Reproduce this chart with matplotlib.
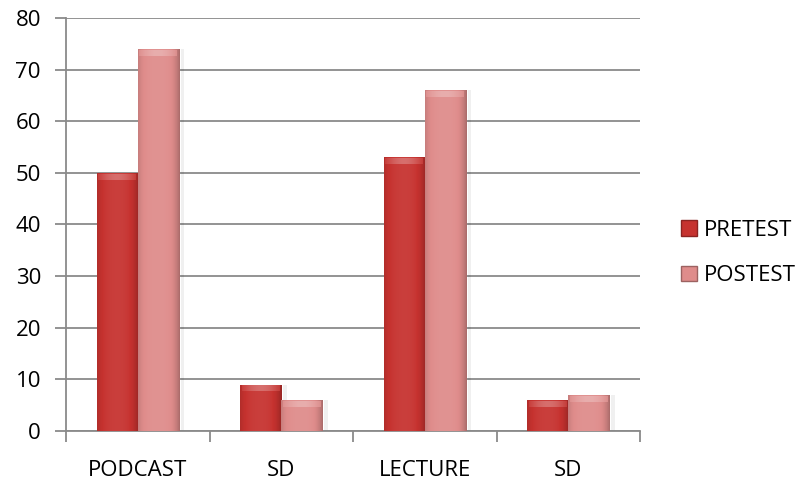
import numpy as np
import matplotlib
matplotlib.use("Agg")
import matplotlib.pyplot as plt
from matplotlib.patches import Patch
from matplotlib.colors import to_rgb

categories = ["PODCAST", "SD", "LECTURE", "SD"]
pretest = [50, 9, 53, 6]
posttest = [74, 6, 66, 7]
series_names = ["PRETEST", "POSTEST"]
y_ticks = [0, 10, 20, 30, 40, 50, 60, 70, 80]

plt.rcParams["font.family"] = ["Open Sans", "DejaVu Sans"]
FS = 16

fig = plt.figure(figsize=(7.99, 4.87), dpi=100)
ax = fig.add_axes([66 / 799, 1 - 431 / 487, (640 - 66) / 799, (431 - 18) / 487])

x = np.arange(len(categories))
width = 0.286

pre_col = "#C6322F"
post_col = "#DF8C8B"


def shade(c, f):
    r, g, b = to_rgb(c)
    if f >= 0:
        return (r + (1 - r) * f, g + (1 - g) * f, b + (1 - b) * f)
    return (r * (1 + f), g * (1 + f), b * (1 + f))


def bevel_bars(xs, vals, color):
    bars = ax.bar(xs, vals, width, color=color, edgecolor=shade(color, -0.3),
                  linewidth=0.6, zorder=3)
    # horizontal shading across each bar: darker toward both sides
    t = np.linspace(0, 1, 64)
    prof = 0.06 * np.sin(np.pi * t) - 0.16 * (np.abs(t - 0.45) * 2) ** 4
    grad = np.array([[shade(color, p) for p in prof]])
    for b in bars:
        x0, w, h = b.get_x(), b.get_width(), b.get_height()
        im = ax.imshow(grad, extent=(x0, x0 + w, 0, h), aspect="auto",
                       zorder=3.1, interpolation="bilinear")
        im.set_clip_path(b)
        # lighter bevel along the top edge
        bh = min(1.3, h * 0.3)
        top = np.array([[shade(color, 0.28 * np.sin(np.pi * s) + 0.08)
                         for s in t]])
        im2 = ax.imshow(top, extent=(x0 + w * 0.04, x0 + w * 0.96, h - bh, h - 0.15),
                        aspect="auto", zorder=3.2, interpolation="bilinear", alpha=0.8)
        im2.set_clip_path(b)
        # soft shadow to the right
        ax.bar(x0 + w + 0.012, h, 0.025, bottom=0, align="edge",
               color="#000000", alpha=0.06, linewidth=0, zorder=2.5)
    return bars


bevel_bars(x - width / 2, pretest, pre_col)
bevel_bars(x + width / 2, posttest, post_col)

ax.set_xlim(-0.5, len(categories) - 0.5)
ax.set_ylim(0, 80)
ax.set_yticks(y_ticks)
ax.set_yticklabels([str(v) for v in y_ticks], fontsize=FS)
ax.yaxis.grid(True, color="#8A8A8A", linewidth=1.3, zorder=0)
ax.set_axisbelow(True)

ax.set_xticks(x)
ax.set_xticklabels(categories, fontsize=FS)
ax.set_xticks(np.arange(-0.5, len(categories), 1.0), minor=True)
ax.tick_params(axis="x", which="major", length=0, pad=21)
ax.tick_params(axis="x", which="minor", length=8, width=1.3, color="#8A8A8A")
ax.tick_params(axis="y", length=8, width=1.3, color="#8A8A8A", pad=10)

for s in ["top", "right"]:
    ax.spines[s].set_visible(False)
for s in ["left", "bottom"]:
    ax.spines[s].set_color("#8A8A8A")
    ax.spines[s].set_linewidth(1.3)

handles = [Patch(facecolor=pre_col, edgecolor=shade(pre_col, -0.3)),
           Patch(facecolor=post_col, edgecolor=shade(post_col, -0.3))]
fig.legend(handles, series_names, loc="center left",
           bbox_to_anchor=(681 / 799, 1 - 253 / 487), frameon=False,
           borderpad=0, borderaxespad=0,
           fontsize=FS, handlelength=0.72, handleheight=0.72,
           handletextpad=0.3, labelspacing=1.1)

fig.savefig("out.png", dpi=100)
